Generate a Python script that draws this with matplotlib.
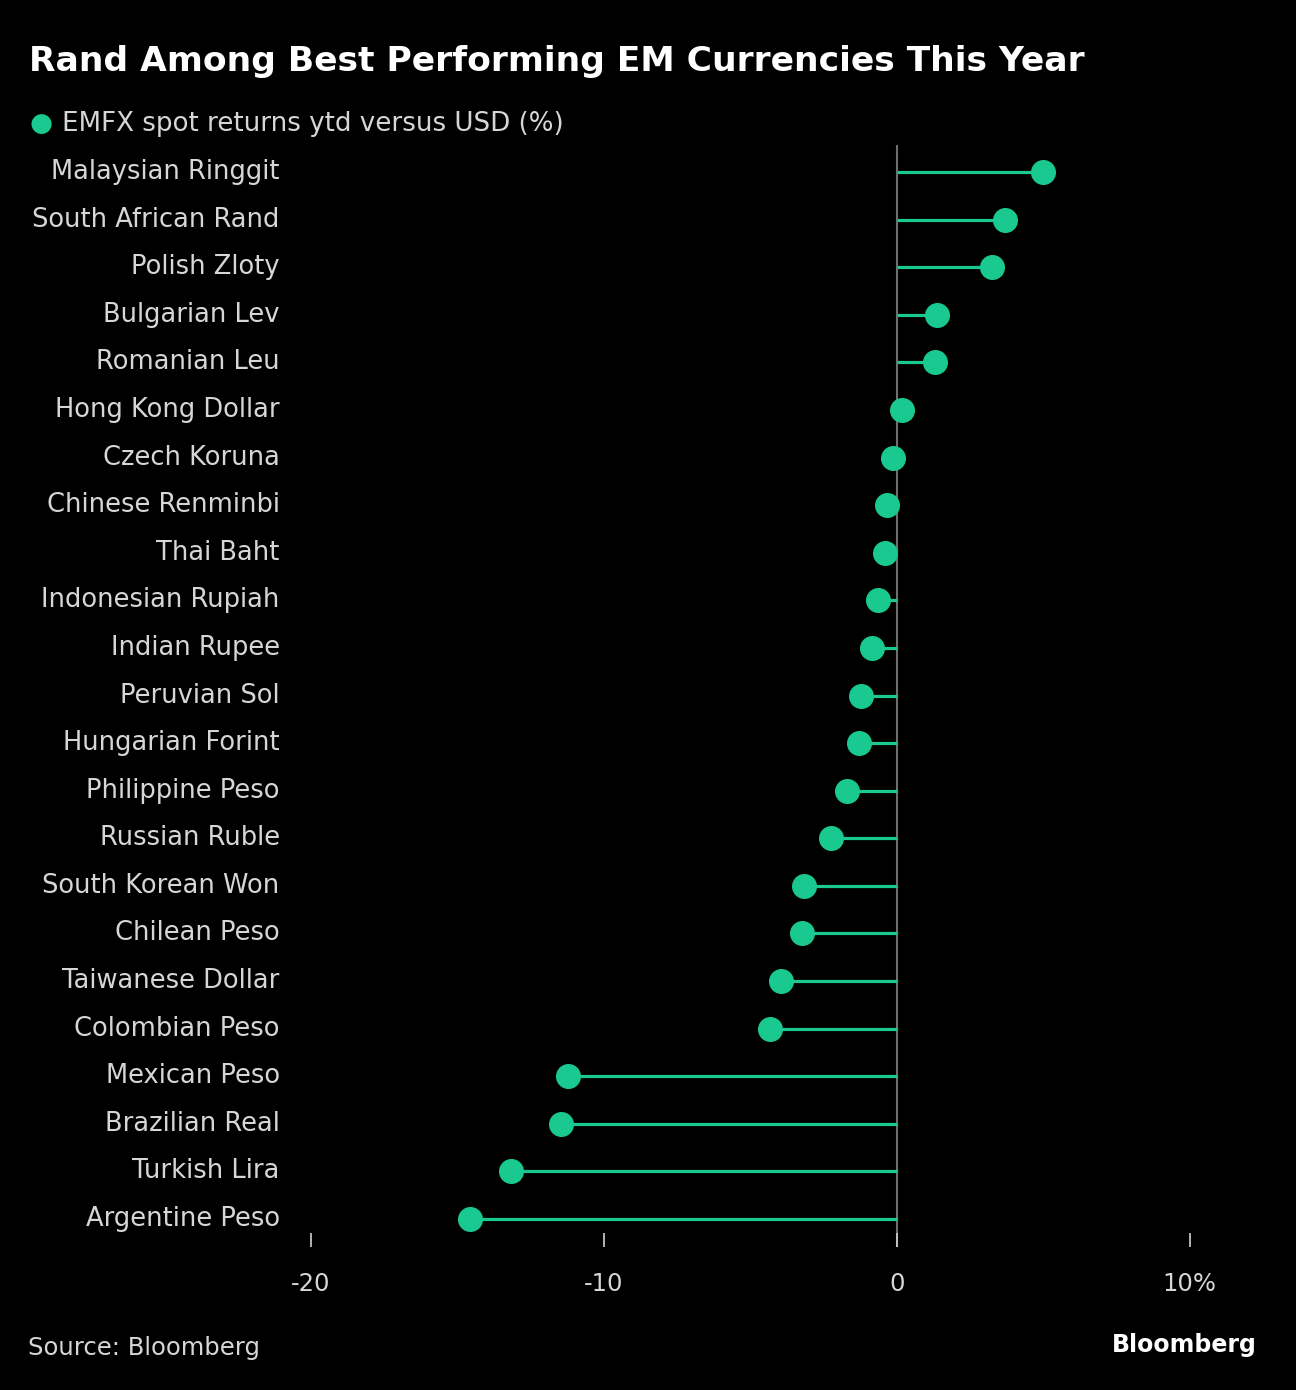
import numpy as np
import matplotlib.pyplot as plt

currencies = ["Malaysian Ringgit", "South African Rand", "Polish Zloty", "Bulgarian Lev",
              "Romanian Leu", "Hong Kong Dollar", "Czech Koruna", "Chinese Renminbi",
              "Thai Baht", "Indonesian Rupiah", "Indian Rupee", "Peruvian Sol",
              "Hungarian Forint", "Philippine Peso", "Russian Ruble", "South Korean Won",
              "Chilean Peso", "Taiwanese Dollar", "Colombian Peso", "Mexican Peso",
              "Brazilian Real", "Turkish Lira", "Argentine Peso"]
returns = [4.98, 3.69, 3.24, 1.37, 1.30, 0.17, -0.14, -0.34, -0.41, -0.65, -0.85, -1.23,
           -1.30, -1.71, -2.25, -3.17, -3.24, -3.96, -4.33, -11.23, -11.47, -13.17, -14.57]
xticks = [-20, -10, 0, 10]
xticklabels = ["-20", "-10", "0", "10%"]

green = '#19c98f'
grey_text = '#d6d6d6'

fig = plt.figure(figsize=(12.96, 13.9), dpi=100, facecolor='black')
ax = fig.add_axes([295/1296, 1 - 1247/1390, 965/1296, 1102/1390])
ax.set_facecolor('black')

y = np.arange(len(currencies))
ax.axvline(0, color='#6e6e6e', linewidth=1.5, zorder=1)
ax.hlines(y, 0, returns, color=green, linewidth=2.3, zorder=2)
ax.plot(returns, y, linestyle=' ', marker='o', markersize=17, color=green, zorder=3)

ax.set_xlim(-20.55, 12.4)
ax.set_ylim(len(currencies) - 0.41, -0.57)
ax.set_yticks(y)
ax.set_yticklabels(currencies, fontsize=18.5, color=grey_text, va='center')
ax.tick_params(axis='y', length=0, pad=11)
ax.set_xticks(xticks)
ax.set_xticklabels(xticklabels, fontsize=17.5, color=grey_text)
ax.tick_params(axis='x', direction='in', length=10, width=1.2, color='#d0d0d0', pad=18)
for s in ax.spines.values():
    s.set_visible(False)

fig.text(29/1296, 1 - 62/1390, "Rand Among Best Performing EM Currencies This Year",
         fontsize=24.8, fontweight='bold', color='white', va='center', ha='left')
fig.text(41/1296, 1 - 124/1390, "\u25cf", fontsize=19, color=green, va='center', ha='center')
fig.text(62/1296, 1 - 124/1390, "EMFX spot returns ytd versus USD (%)",
         fontsize=18.8, color=grey_text, va='center', ha='left')
fig.text(28/1296, 1 - 1348/1390, "Source: Bloomberg", fontsize=17.5, color=grey_text,
         va='center', ha='left')
fig.text(1257/1296, 1 - 1345/1390, "Bloomberg", fontsize=17, fontweight='bold',
         color='white', va='center', ha='right')

fig.savefig('out.png', dpi=100, facecolor='black')
